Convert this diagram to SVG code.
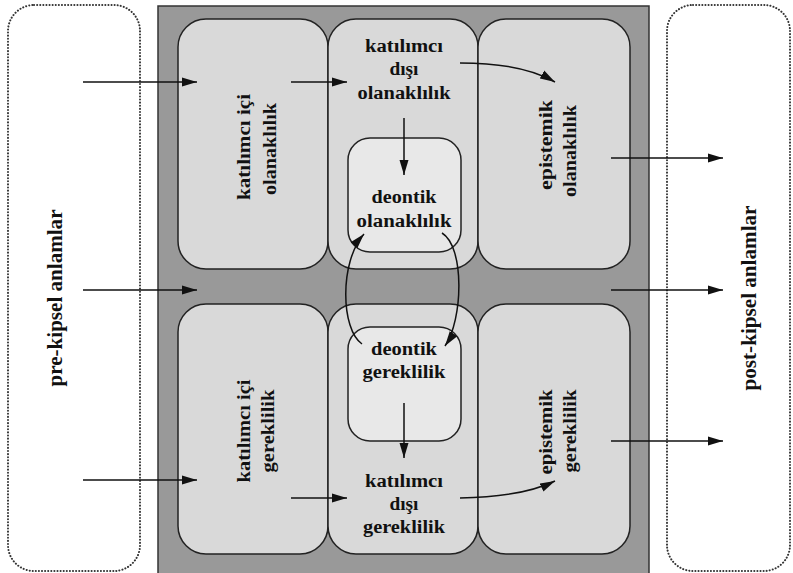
<svg xmlns="http://www.w3.org/2000/svg" width="793" height="573" viewBox="0 0 793 573">
<style>
.t{font-family:"Liberation Serif","Times New Roman",serif;font-weight:bold;font-size:18px;fill:#111;text-anchor:middle}
.big{font-size:20px}
.dot{fill:none;stroke:#333;stroke-width:2;stroke-dasharray:0.1 3;stroke-linecap:round}
.box{fill:#d9d9d9;stroke:#222;stroke-width:1.5}
.inner{fill:#e8e8e8;stroke:#222;stroke-width:1.5}
.c{fill:none;stroke:#111;stroke-width:1.5;marker-end:url(#ah)}
</style>
<defs>
<marker id="ah" markerWidth="15" markerHeight="10" refX="15" refY="5" orient="auto" markerUnits="userSpaceOnUse">
<path d="M0,0.5 L15,5 L0,9.5 z" fill="#111"/>
</marker>
</defs>
<rect width="793" height="573" fill="#fff"/>
<g id="pre">
<rect class="dot" x="8" y="5" width="132" height="566" rx="26"/>
<text class="t big" transform="translate(62,298) rotate(-90)" textLength="177" lengthAdjust="spacingAndGlyphs">pre-kipsel anlamlar</text>
</g>
<g id="post">
<rect class="dot" x="667" y="5" width="123" height="566" rx="26"/>
<text class="t big" transform="translate(756,298) rotate(-90)" textLength="185" lengthAdjust="spacingAndGlyphs">post-kipsel anlamlar</text>
</g>
<g id="frame">
<rect x="158" y="6" width="491" height="572" fill="#999" stroke="#333" stroke-width="1.5"/>
</g>
<g id="kic-olan">
<rect class="box" x="178" y="19" width="150" height="250" rx="28"/>
<text class="t" transform="translate(250,147) rotate(-90)" textLength="106" lengthAdjust="spacingAndGlyphs">katılımcı içi</text>
<text class="t" transform="translate(276,149) rotate(-90)" textLength="92" lengthAdjust="spacingAndGlyphs">olanaklılık</text>
</g>
<g id="kdis-olan">
<rect class="box" x="328" y="19" width="150" height="250" rx="28"/>
<text class="t" x="404" y="52" textLength="78" lengthAdjust="spacingAndGlyphs">katılımcı</text>
<text class="t" x="404" y="75" textLength="29" lengthAdjust="spacingAndGlyphs">dışı</text>
<text class="t" x="404" y="99" textLength="93" lengthAdjust="spacingAndGlyphs">olanaklılık</text>
</g>
<g id="epi-olan">
<rect class="box" x="478" y="19" width="152" height="250" rx="28"/>
<text class="t" transform="translate(552,145) rotate(-90)" textLength="90" lengthAdjust="spacingAndGlyphs">epistemik</text>
<text class="t" transform="translate(576,151) rotate(-90)" textLength="92" lengthAdjust="spacingAndGlyphs">olanaklılık</text>
</g>
<g id="deo-olan">
<rect class="inner" x="348" y="138" width="113" height="114" rx="22"/>
<text class="t" x="404" y="203" textLength="65" lengthAdjust="spacingAndGlyphs">deontik</text>
<text class="t" x="404" y="227" textLength="95" lengthAdjust="spacingAndGlyphs">olanaklılık</text>
</g>
<g id="kic-ger">
<rect class="box" x="178" y="304" width="150" height="250" rx="28"/>
<text class="t" transform="translate(250,431) rotate(-90)" textLength="103" lengthAdjust="spacingAndGlyphs">katılımcı içi</text>
<text class="t" transform="translate(274,431) rotate(-90)" textLength="83" lengthAdjust="spacingAndGlyphs">gereklilik</text>
</g>
<g id="kdis-ger">
<rect class="box" x="328" y="304" width="150" height="250" rx="28"/>
<text class="t" x="404" y="487" textLength="78" lengthAdjust="spacingAndGlyphs">katılımcı</text>
<text class="t" x="404" y="510" textLength="29" lengthAdjust="spacingAndGlyphs">dışı</text>
<text class="t" x="404" y="533" textLength="82" lengthAdjust="spacingAndGlyphs">gereklilik</text>
</g>
<g id="epi-ger">
<rect class="box" x="478" y="304" width="152" height="250" rx="28"/>
<text class="t" transform="translate(552,432) rotate(-90)" textLength="85" lengthAdjust="spacingAndGlyphs">epistemik</text>
<text class="t" transform="translate(576,431) rotate(-90)" textLength="83" lengthAdjust="spacingAndGlyphs">gereklilik</text>
</g>
<g id="deo-ger">
<rect class="inner" x="348" y="327" width="113" height="114" rx="22"/>
<text class="t" x="404" y="355" textLength="66" lengthAdjust="spacingAndGlyphs">deontik</text>
<text class="t" x="404" y="378" textLength="83" lengthAdjust="spacingAndGlyphs">gereklilik</text>
</g>
<g id="connectors">
<path class="c" d="M83,82 H197"/>
<path class="c" d="M291,82 H347"/>
<path class="c" d="M460,63 Q522,63 555,82"/>
<path class="c" d="M611,158 H723"/>
<path class="c" d="M404,118 V175"/>
<path class="c" d="M83,290 H197"/>
<path class="c" d="M611,290 H723"/>
<path class="c" d="M362,344 C341,330 339,262 364,234"/>
<path class="c" d="M442,233 C465,247 463,320 445,346"/>
<path class="c" d="M404,403 V458"/>
<path class="c" d="M83,480 H197"/>
<path class="c" d="M291,498 H347"/>
<path class="c" d="M460,498 Q522,497 555,481"/>
<path class="c" d="M611,441 H723"/>
</g>
</svg>
